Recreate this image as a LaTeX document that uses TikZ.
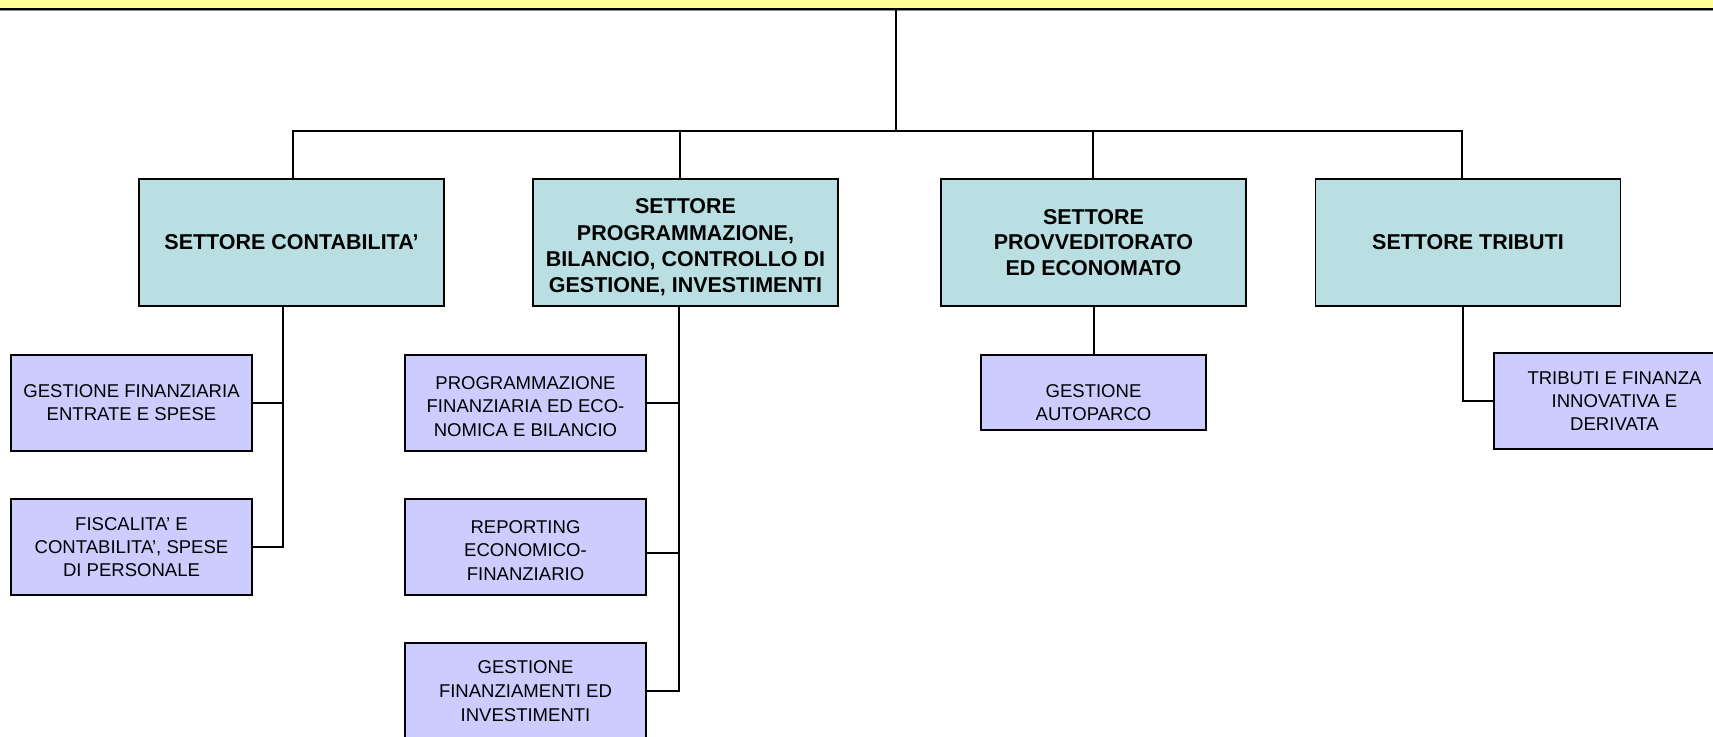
\documentclass[tikz,border=0pt]{standalone}
\usepackage{fontspec}
\setmainfont{Liberation Sans}
\definecolor{tealbox}{RGB}{185,223,227}
\definecolor{lavbox}{RGB}{204,204,255}
\definecolor{yelbox}{RGB}{255,255,153}
\newcommand\dnshift[1]{\rule{0pt}{#1}}
\begin{document}
\begin{tikzpicture}[x=0.75pt,y=-0.75pt,
  rootbox/.style={draw=black,line width=1.4pt,fill=yelbox,minimum width=1320pt,minimum height=45pt,inner sep=0pt},
  sect/.style={draw=black,line width=1.4pt,fill=tealbox,minimum width=228.75pt,minimum height=95.25pt,inner sep=0pt,align=center,font=\fontsize{16.1}{19.3}\selectfont\bfseries},
  unit/.style={draw=black,line width=1.4pt,fill=lavbox,minimum width=180.75pt,minimum height=72pt,inner sep=0pt,align=center,font=\fontsize{13.9}{17.25}\selectfont},
  unitm/.style={unit,font=\fontsize{13.9}{17.9}\selectfont},
  conn/.style={line width=1.5pt,line cap=rect}]
\useasboundingbox (0,0) rectangle (1713,736);
% root
\node[rootbox] (root) at (856.5,-21) {};
\draw[line width=0.8pt,black!45] (0,10.4) -- (1713,10.4);
% sectors
\node[sect] (s1) at (291.5,242.5) {SETTORE CONTABILITA’};
\node[sect,font=\fontsize{16.1}{19.6}\selectfont\bfseries] (s2) at (685.5,242.5) {\dnshift{18.5pt}SETTORE\\PROGRAMMAZIONE,\\BILANCIO, CONTROLLO DI\\GESTIONE, INVESTIMENTI};
\node[sect] (s3) at (1093.5,242.5) {SETTORE\\PROVVEDITORATO\\ED ECONOMATO};
\node[sect] (s4) at (1468,242.5) {SETTORE TRIBUTI};
% units
\node[unit] (u11) at (131.5,403) {GESTIONE FINANZIARIA\\ENTRATE E SPESE};
\node[unit] (u12) at (131.5,547) {FISCALITA’ E\\CONTABILITA’, SPESE\\DI PERSONALE};
\node[unitm] (u21) at (525.5,403) {\dnshift{15pt}PROGRAMMAZIONE\\FINANZIARIA ED ECO-\\NOMICA E BILANCIO};
\node[unitm] (u22) at (525.5,547) {\dnshift{15pt}REPORTING\\ECONOMICO-\\FINANZIARIO};
\node[unitm] (u23) at (525.5,691) {GESTIONE\\FINANZIAMENTI ED\\INVESTIMENTI};
\node[unit,minimum width=168.75pt,minimum height=56.25pt] (u31) at (1093.5,392.5) {\dnshift{25pt}GESTIONE\\AUTOPARCO};
\node[unit] (u41) at (1614.5,401) {TRIBUTI E FINANZA\\INNOVATIVA E\\DERIVATA};
% connectors
\coordinate (bus) at (896,131);
\coordinate (d1) at (293,131);
\coordinate (d2) at (680,131);
\coordinate (d3) at (1093,131);
\coordinate (d4) at (1462,131);
\draw[conn] (root.south -| bus) -- (bus);
\draw[conn] (d1) -- (d4);
\draw[conn] (d1) -- (d1 |- s1.north);
\draw[conn] (d2) -- (d2 |- s2.north);
\draw[conn] (d3) -- (d3 |- s3.north);
\draw[conn] (d4) -- (d4 |- s4.north);
\coordinate (c1) at (283,0);
\coordinate (c2) at (679,0);
\coordinate (c3) at (1094,0);
\coordinate (c4) at (1463,0);
\coordinate (j22) at (679,553);
\draw[conn] (s1.south -| c1) |- (u12.east);
\draw[conn] (u11.east) -- (u11.east -| c1);
\draw[conn] (s2.south -| c2) |- (u23.east);
\draw[conn] (u21.east) -- (u21.east -| c2);
\draw[conn] (u22.east |- j22) -- (j22);
\draw[conn] (s3.south -| c3) -- (u31.north -| c3);
\draw[conn] (s4.south -| c4) |- (u41.west);
\end{tikzpicture}
\end{document}
